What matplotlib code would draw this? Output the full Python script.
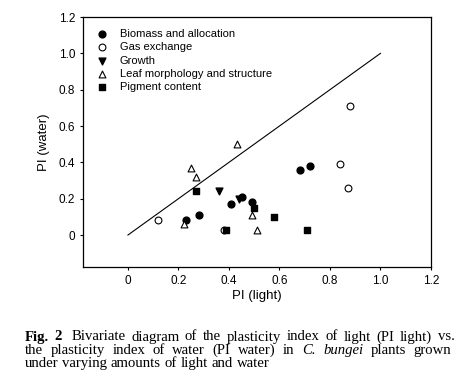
import matplotlib
matplotlib.use("Agg")
from matplotlib import pyplot as plt

# PI (light), PI (water) for each trait group
biomass_x = [0.23, 0.28, 0.41, 0.45, 0.49, 0.68, 0.72]
biomass_y = [0.08, 0.11, 0.17, 0.21, 0.18, 0.36, 0.38]
gas_x = [0.12, 0.38, 0.84, 0.87, 0.88]
gas_y = [0.08, 0.03, 0.39, 0.26, 0.71]
growth_x = [0.36, 0.44]
growth_y = [0.245, 0.20]
leaf_x = [0.25, 0.27, 0.43, 0.22, 0.49, 0.51]
leaf_y = [0.37, 0.32, 0.50, 0.06, 0.11, 0.03]
pigment_x = [0.27, 0.39, 0.50, 0.58, 0.71]
pigment_y = [0.24, 0.03, 0.15, 0.10, 0.03]

ticks = [0, 0.2, 0.4, 0.6, 0.8, 1.0, 1.2]
tick_labels = ['0', '0.2', '0.4', '0.6', '0.8', '1.0', '1.2']

plt.rcParams['font.family'] = ['Liberation Sans', 'DejaVu Sans']

W, H = 457, 388
fig = plt.figure(figsize=(W / 100, H / 100), dpi=100)
ax = fig.add_axes([83 / W, 1 - 267 / H, (431 - 83) / W, (267 - 17) / H])

ax.plot([0, 1], [0, 1], color='black', lw=0.8)
ms = 24
ax.scatter(biomass_x, biomass_y, s=ms, marker='o', c='black', label='Biomass and allocation', zorder=3)
ax.scatter(gas_x, gas_y, s=ms, marker='o', facecolors='white', edgecolors='black', linewidths=0.8,
           label='Gas exchange', zorder=3)
ax.scatter(growth_x, growth_y, s=ms, marker='v', c='black', label='Growth', zorder=3)
ax.scatter(leaf_x, leaf_y, s=ms, marker='^', facecolors='white', edgecolors='black', linewidths=0.8,
           label='Leaf morphology and structure', zorder=3)
ax.scatter(pigment_x, pigment_y, s=ms - 4, marker='s', c='black', label='Pigment content', zorder=3)

ax.set_xlim(-0.178, 1.2)
ax.set_ylim(-0.176, 1.2)
ax.set_xticks(ticks)
ax.set_xticklabels(tick_labels)
ax.set_yticks(ticks)
ax.set_yticklabels(tick_labels)
ax.tick_params(direction='out', length=2.2, width=0.8, labelsize=8.5, pad=3.5)
for s in ax.spines.values():
    s.set_linewidth(0.9)
ax.set_xlabel('PI (light)', fontsize=9.5, labelpad=2)
ax.set_ylabel('PI (water)', fontsize=9.5, labelpad=6)

ax.legend(loc='upper left', frameon=False, fontsize=8, handletextpad=0.9, handlelength=1.4,
          labelspacing=0.3, borderaxespad=0.0, bbox_to_anchor=(0.02, 0.97))

# caption, word by word so bold / italic parts line up and lines 1-2 are justified
cap_size = 10.6
lines = [
    [('Fig.', 'bold', 'normal'), ('2', 'bold', 'normal'), ('Bivariate', 'normal', 'normal'),
     ('diagram', 'normal', 'normal'), ('of', 'normal', 'normal'), ('the', 'normal', 'normal'),
     ('plasticity', 'normal', 'normal'), ('index', 'normal', 'normal'), ('of', 'normal', 'normal'),
     ('light', 'normal', 'normal'), ('(PI', 'normal', 'normal'), ('light)', 'normal', 'normal'),
     ('vs.', 'normal', 'normal')],
    [(w, 'normal', 'normal') for w in 'the plasticity index of water (PI water) in'.split()]
    + [('C.', 'normal', 'italic'), ('bungei', 'normal', 'italic'), ('plants', 'normal', 'normal'),
       ('grown', 'normal', 'normal')],
    [(w, 'normal', 'normal') for w in 'under varying amounts of light and water'.split()],
]
justify = [True, True, False]
fig.canvas.draw()
r = fig.canvas.get_renderer()
left_px, right_px = 25, 451
for i, words in enumerate(lines):
    y = 1 - (337 + i * 13.4) / H
    texts = []
    for txt, w, st in words:
        t = fig.text(0, y, txt, fontsize=cap_size, family='Liberation Serif', weight=w, style=st,
                     va='center', ha='left')
        texts.append(t)
    widths = [t.get_window_extent(renderer=r).width for t in texts]
    if justify[i]:
        gap = (right_px - left_px - sum(widths)) / (len(widths) - 1)
    else:
        gap = cap_size * 1.39 * 0.25
    x = left_px
    for j, t in enumerate(texts):
        t.set_x(x / W)
        x += widths[j] + gap
        if i == 0 and j == 1:
            x += gap * 0.6

fig.savefig('out.png', dpi=100)
